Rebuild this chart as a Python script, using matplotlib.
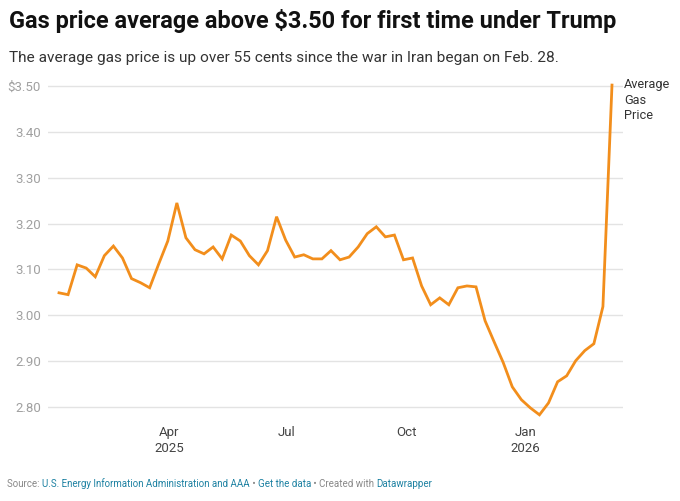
import matplotlib
matplotlib.use("Agg")
import matplotlib.pyplot as plt
import matplotlib.dates as mdates
import pandas as pd
import numpy as np

plt.rcParams['font.family'] = ['Roboto', 'DejaVu Sans']

# Weekly data (Mondays), Jan 6, 2025 - Mar 9, 2026
start_date = "2025-01-06"
n_weeks = 62
prices = [3.049, 3.045, 3.110, 3.103, 3.084, 3.130, 3.151, 3.125, 3.080, 3.071,
          3.060, 3.112, 3.162, 3.245, 3.169, 3.143, 3.134, 3.149, 3.123, 3.175,
          3.162, 3.130, 3.110, 3.141, 3.215, 3.164, 3.127, 3.132, 3.123, 3.123,
          3.141, 3.121, 3.127, 3.149, 3.178, 3.193, 3.171, 3.175, 3.121, 3.125,
          3.064, 3.023, 3.038, 3.023, 3.060, 3.064, 3.062, 2.988, 2.942, 2.897,
          2.844, 2.816, 2.798, 2.783, 2.809, 2.855, 2.868, 2.901, 2.923, 2.938,
          3.019, 3.502]
dates = pd.date_range(start_date, periods=n_weeks, freq="7D")

y_ticks = [2.80, 2.90, 3.00, 3.10, 3.20, 3.30, 3.40, 3.50]
y_tick_labels = ["2.80", "2.90", "3.00", "3.10", "3.20", "3.30", "3.40", "$3.50"]
x_tick_dates = ["2025-04-01", "2025-07-01", "2025-10-01", "2026-01-01"]
x_tick_labels = ["Apr\n2025", "Jul", "Oct", "Jan\n2026"]

W, H = 680, 501
fig = plt.figure(figsize=(W / 100, H / 100), dpi=100)
fig.patch.set_facecolor("white")

ymin, ymax = 2.76, 3.51
left_px, right_px = 48, 623
top_px = 86 - (ymax - 3.50) / 0.10 * 45.9
bot_px = 407 + (2.80 - ymin) / 0.10 * 45.9
ax = fig.add_axes([left_px / W, 1 - bot_px / H, (right_px - left_px) / W, (bot_px - top_px) / H])

ax.plot(dates, prices, color="#f28e1c", lw=2.0, solid_joinstyle="miter", zorder=3, clip_on=False)

xmin = pd.Timestamp("2025-01-06") - pd.Timedelta(days=8.5)
xmax = pd.Timestamp("2026-03-09") + pd.Timedelta(days=8.5)
ax.set_xlim(xmin, xmax)
ax.set_ylim(ymin, ymax)

for s in ax.spines.values():
    s.set_visible(False)
ax.set_yticks(y_ticks)
ax.set_yticklabels(y_tick_labels)
ax.tick_params(axis="y", length=0, pad=5, labelsize=9.5, labelcolor="#a0a0a0")
ax.grid(axis="y", color="#e3e3e3", lw=1)
ax.set_axisbelow(True)
ax.set_xticks([pd.Timestamp(d) for d in x_tick_dates])
ax.set_xticklabels(x_tick_labels)
ax.tick_params(axis="x", length=0, pad=0.5, labelsize=9.5, labelcolor="#444444")
for lbl in ax.get_xticklabels():
    lbl.set_linespacing(1.3)

# Line label
fig.text(624 / W, 1 - 78 / H, "Average\nGas\nPrice", ha="left", va="top",
         fontsize=9.2, color="#333333", linespacing=1.25)

# Title / subtitle
fig.text(9 / W, 1 - 21 / H, "Gas price average above $3.50 for first time under Trump",
         ha="left", va="center", fontsize=16.9, fontweight="bold", color="#111111")
fig.text(9 / W, 1 - 58 / H, "The average gas price is up over 55 cents since the war in Iran began on Feb. 28.",
         ha="left", va="center", fontsize=11.1, color="#333333")

# Footer with multiple colours
parts = [("Source: ", "#888888"),
         ("U.S. Energy Information Administration and AAA", "#1d81a2"),
         (" \u2022 ", "#888888"),
         ("Get the data", "#1d81a2"),
         (" \u2022 Created with ", "#888888"),
         ("Datawrapper", "#1d81a2")]
renderer = fig.canvas.get_renderer()
x = 7 / W
for txt, col in parts:
    t = fig.text(x, 1 - 484 / H, txt, ha="left", va="center", fontsize=7.05, color=col)
    bb = t.get_window_extent(renderer=renderer)
    x += bb.width / W

fig.savefig("out.png", dpi=100, facecolor="white")
